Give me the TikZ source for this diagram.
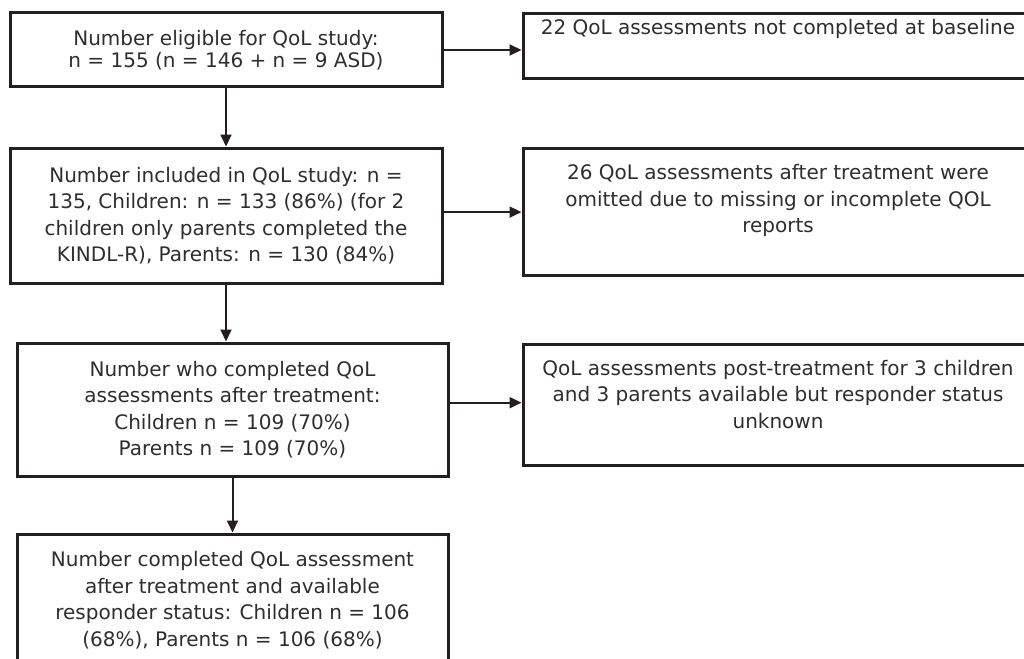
\documentclass[tikz,border=0pt]{standalone}
\usepackage{fontspec}
\newfontfamily\dv{DejaVu Sans}
\usetikzlibrary{arrows.meta}
\definecolor{linec}{HTML}{231F20}
\definecolor{textc}{HTML}{2E2E2E}
\begin{document}
\begin{tikzpicture}[x=1pt,y=-1pt,
  box/.style={draw=linec, line width=3pt, inner sep=0pt},
  txt/.style={font=\dv\fontsize{20}{26.5}\selectfont, text=textc, align=center, inner sep=0pt},
  tight/.style={font=\dv\fontsize{20}{22}\selectfont},
  arr/.style={draw=linec, line width=2pt, -{Triangle[length=12pt,width=11pt]}}]
\useasboundingbox (0,0) rectangle (1024,658);
% left column
\node[box, txt, tight, minimum width=432pt, minimum height=74pt] (b1) at (226,50)
  {Number eligible for QoL study:\\ n = 155 (n = 146 + n = 9 ASD)};
\node[box, txt, minimum width=432pt, minimum height=135pt] (b2) at (226,215.5)
  {Number included in QoL study: n =\\ 135, Children: n = 133 (86\%) (for 2\\ children only parents completed the\\ KINDL-R), Parents: n = 130 (84\%)};
\node[box, txt, minimum width=431pt, minimum height=133pt] (b3) at (232.5,409.5)
  {Number who completed QoL\\ assessments after treatment:\\ Children n = 109 (70\%)\\ Parents n = 109 (70\%)};
\node[box, txt, minimum width=431pt, minimum height=132pt] (b4) at (232.5,600)
  {Number completed QoL assessment\\ after treatment and available\\ responder status: Children n = 106\\ (68\%), Parents n = 106 (68\%)};
% right column
\node[box, minimum width=567pt, minimum height=65pt] (r1) at (806.5,45.8) {};
\node[box, minimum width=567pt, minimum height=127.7pt] (r2) at (806.5,212.1) {};
\node[box, minimum width=567pt, minimum height=121pt] (r3) at (806.5,404.5) {};
\node[txt, anchor=base] (r1t) at (778,34.3) {22 QoL assessments not completed at baseline};
\node[txt] (r2t) at (778,200.6) {26 QoL assessments after treatment were\\ omitted due to missing or incomplete QOL\\ reports};
\node[txt] (r3t) at (778,394.4) {QoL assessments post-treatment for 3 children\\ and 3 parents available but responder status\\ unknown};
% connectors
\draw[arr] (b1.east) -- (b1.east -| r1.west);
\draw[arr] (b1.south) -- (b1.south |- b2.north);
\draw[arr] (r2.west -| b2.east) -- (r2.west);
\draw[arr] (b2.south) -- (b2.south |- b3.north);
\draw[arr] ([yshift=1.8pt]r3.west -| b3.east) -- ([yshift=1.8pt]r3.west);
\draw[arr] (b3.south) -- (b3.south |- b4.north);
\end{tikzpicture}
\end{document}
